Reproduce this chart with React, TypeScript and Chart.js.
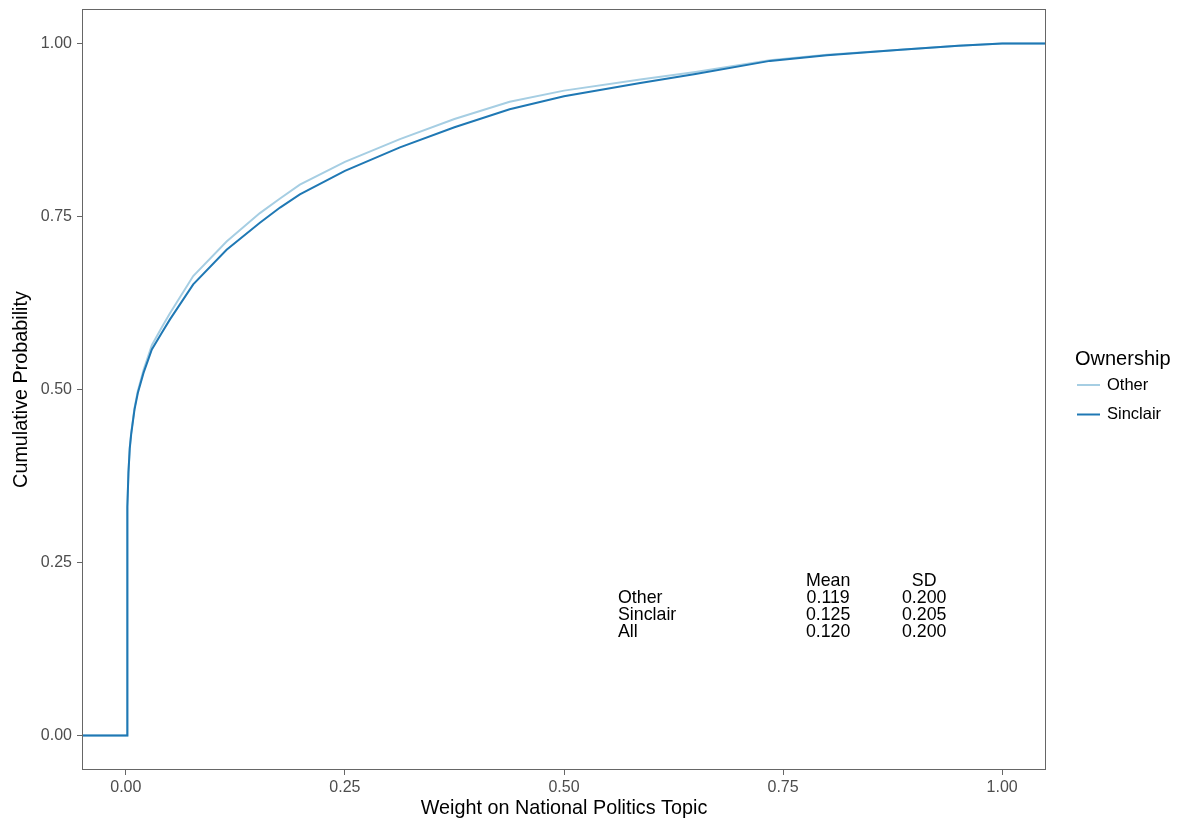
import React, { useEffect, useRef } from "react";
import { Chart, registerables } from "chart.js";

Chart.register(...registerables);

// ECDF sample points (shared x grid)
const xGrid = [-0.05, 0.0015, 0.0015, 0.002, 0.003, 0.0045, 0.0061, 0.0099, 0.0137, 0.0202, 0.0297, 0.0411, 0.0502, 0.0769, 0.115, 0.153, 0.176, 0.1986, 0.25, 0.3128, 0.375, 0.438, 0.5, 0.587, 0.65, 0.735, 0.8, 0.884, 0.95, 1.0, 1.05];
const sinclairCdf = [0, 0, 0.25, 0.33, 0.38, 0.415, 0.435, 0.471, 0.495, 0.524, 0.558, 0.582, 0.601, 0.652, 0.702, 0.741, 0.763, 0.782, 0.816, 0.85, 0.879, 0.905, 0.924, 0.943, 0.956, 0.975, 0.983, 0.991, 0.997, 1.0, 1.0];
const otherCdf = [0, 0, 0.24, 0.33, 0.38, 0.416, 0.437, 0.473, 0.498, 0.528, 0.564, 0.59, 0.61, 0.664, 0.714, 0.755, 0.776, 0.796, 0.829, 0.862, 0.891, 0.916, 0.932, 0.948, 0.959, 0.976, 0.984, 0.991, 0.997, 1.0, 1.0];

const seriesNames = ["Other", "Sinclair"];
const seriesColors = ["#a6cee3", "#1f78b4"];

const xTicks = [0, 0.25, 0.5, 0.75, 1.0];
const yTicks = [0, 0.25, 0.5, 0.75, 1.0];

const legendTitle = "Ownership";
const xTitle = "Weight on National Politics Topic";
const yTitle = "Cumulative Probability";

// Summary table
const tableRows = ["Other", "Sinclair", "All"];
const tableMeans = ["0.119", "0.125", "0.120"];
const tableSds = ["0.200", "0.205", "0.200"];
const tableHeaders = ["Mean", "SD"];
// table anchor positions in data units
const tableLabelX = 0.5616;
const tableMeanX = 0.8014;
const tableSdX = 0.911;
const tableHeaderY = 0.2225;
const tableRowY = [0.1979, 0.174, 0.1494];

const FONT = '"Liberation Sans", Arial, Helvetica, sans-serif';

const frameAndExtras = {
  id: "frameAndExtras",
  afterDatasetsDraw(chart: any) {
    const { ctx, chartArea } = chart;
    const xs = chart.scales.x;
    const ys = chart.scales.y;
    ctx.save();
    // panel border
    ctx.strokeStyle = "#666666";
    ctx.lineWidth = 1;
    ctx.strokeRect(chartArea.left + 0.5, chartArea.top + 0.5, chartArea.right - chartArea.left - 1, chartArea.bottom - chartArea.top - 1);

    // table annotation
    ctx.fillStyle = "#000000";
    ctx.font = `17.8px ${FONT}`;
    ctx.textBaseline = "middle";
    ctx.textAlign = "center";
    ctx.fillText(tableHeaders[0], xs.getPixelForValue(tableMeanX), ys.getPixelForValue(tableHeaderY));
    ctx.fillText(tableHeaders[1], xs.getPixelForValue(tableSdX), ys.getPixelForValue(tableHeaderY));
    tableRows.forEach((r, i) => {
      const y = ys.getPixelForValue(tableRowY[i]);
      ctx.textAlign = "left";
      ctx.fillText(r, xs.getPixelForValue(tableLabelX), y);
      ctx.textAlign = "center";
      ctx.fillText(tableMeans[i], xs.getPixelForValue(tableMeanX), y);
      ctx.fillText(tableSds[i], xs.getPixelForValue(tableSdX), y);
    });

    // legend
    const lx = chartArea.right + 29;
    ctx.textAlign = "left";
    ctx.font = `20px ${FONT}`;
    ctx.fillText(legendTitle, lx, 359);
    chart.data.datasets.forEach((ds: any, i: number) => {
      const y = 385 + i * 29.5;
      ctx.strokeStyle = ds.borderColor;
      ctx.lineWidth = 2;
      ctx.beginPath();
      ctx.moveTo(lx + 2, y);
      ctx.lineTo(lx + 25, y);
      ctx.stroke();
      ctx.font = `16.5px ${FONT}`;
      ctx.fillStyle = "#000000";
      ctx.fillText(ds.label, lx + 32, y);
    });
    ctx.restore();
  },
};

export default function App() {
  const ref = useRef<HTMLCanvasElement>(null);
  useEffect(() => {
    if (!ref.current) return;
    const series = [otherCdf, sinclairCdf];
    const chart = new Chart(ref.current, {
      type: "line",
      data: {
        datasets: series.map((s, i) => ({
          label: seriesNames[i],
          data: xGrid.map((x, j) => ({ x, y: s[j] })),
          borderColor: seriesColors[i],
          backgroundColor: seriesColors[i],
          borderWidth: 2,
          pointRadius: 0,
          tension: 0,
          fill: false,
          order: i === 1 ? 0 : 1,
        })),
      },
      options: {
        animation: false,
        responsive: false,
        events: [],
        layout: { padding: { left: 0, right: 132, top: 9, bottom: 0 } },
        plugins: { legend: { display: false }, tooltip: { enabled: false } },
        scales: {
          x: {
            type: "linear",
            min: -0.05,
            max: 1.05,
            afterBuildTicks: (scale: any) => {
              scale.ticks = xTicks.map((v) => ({ value: v }));
            },
            afterFit: (scale: any) => {
              scale.height = 55;
              scale.paddingLeft = 0;
              scale.paddingRight = 0;
            },
            grid: { display: true, drawOnChartArea: false, drawTicks: true, tickLength: 5, color: "#666666" },
            border: { display: false },
            ticks: {
              color: "#4d4d4d",
              font: { family: FONT, size: 16 },
              padding: 3,
              maxRotation: 0,
              callback: (v: any) => Number(v).toFixed(2),
            },
            title: {
              display: true,
              text: xTitle,
              color: "#000000",
              font: { family: FONT, size: 19.8 },
              padding: { top: 0, bottom: 4.1 },
            },
          },
          y: {
            type: "linear",
            min: -0.05,
            max: 1.05,
            afterBuildTicks: (scale: any) => {
              scale.ticks = yTicks.map((v) => ({ value: v }));
            },
            afterFit: (scale: any) => {
              scale.width = 82;
              scale.paddingTop = 0;
              scale.paddingBottom = 0;
            },
            grid: { display: true, drawOnChartArea: false, drawTicks: true, tickLength: 5, color: "#666666" },
            border: { display: false },
            ticks: {
              color: "#4d4d4d",
              font: { family: FONT, size: 16 },
              padding: 5,
              callback: (v: any) => Number(v).toFixed(2),
            },
            title: {
              display: true,
              text: yTitle,
              color: "#000000",
              font: { family: FONT, size: 19.8 },
              padding: { top: 9.6, bottom: 0 },
            },
          },
        },
      },
      plugins: [frameAndExtras],
    });
    return () => chart.destroy();
  }, []);
  return (
    <div style={{ position: "fixed", left: 0, top: 0, width: 1178, height: 825, background: "#ffffff" }}>
      <canvas ref={ref} width={1178} height={825} />
    </div>
  );
}
